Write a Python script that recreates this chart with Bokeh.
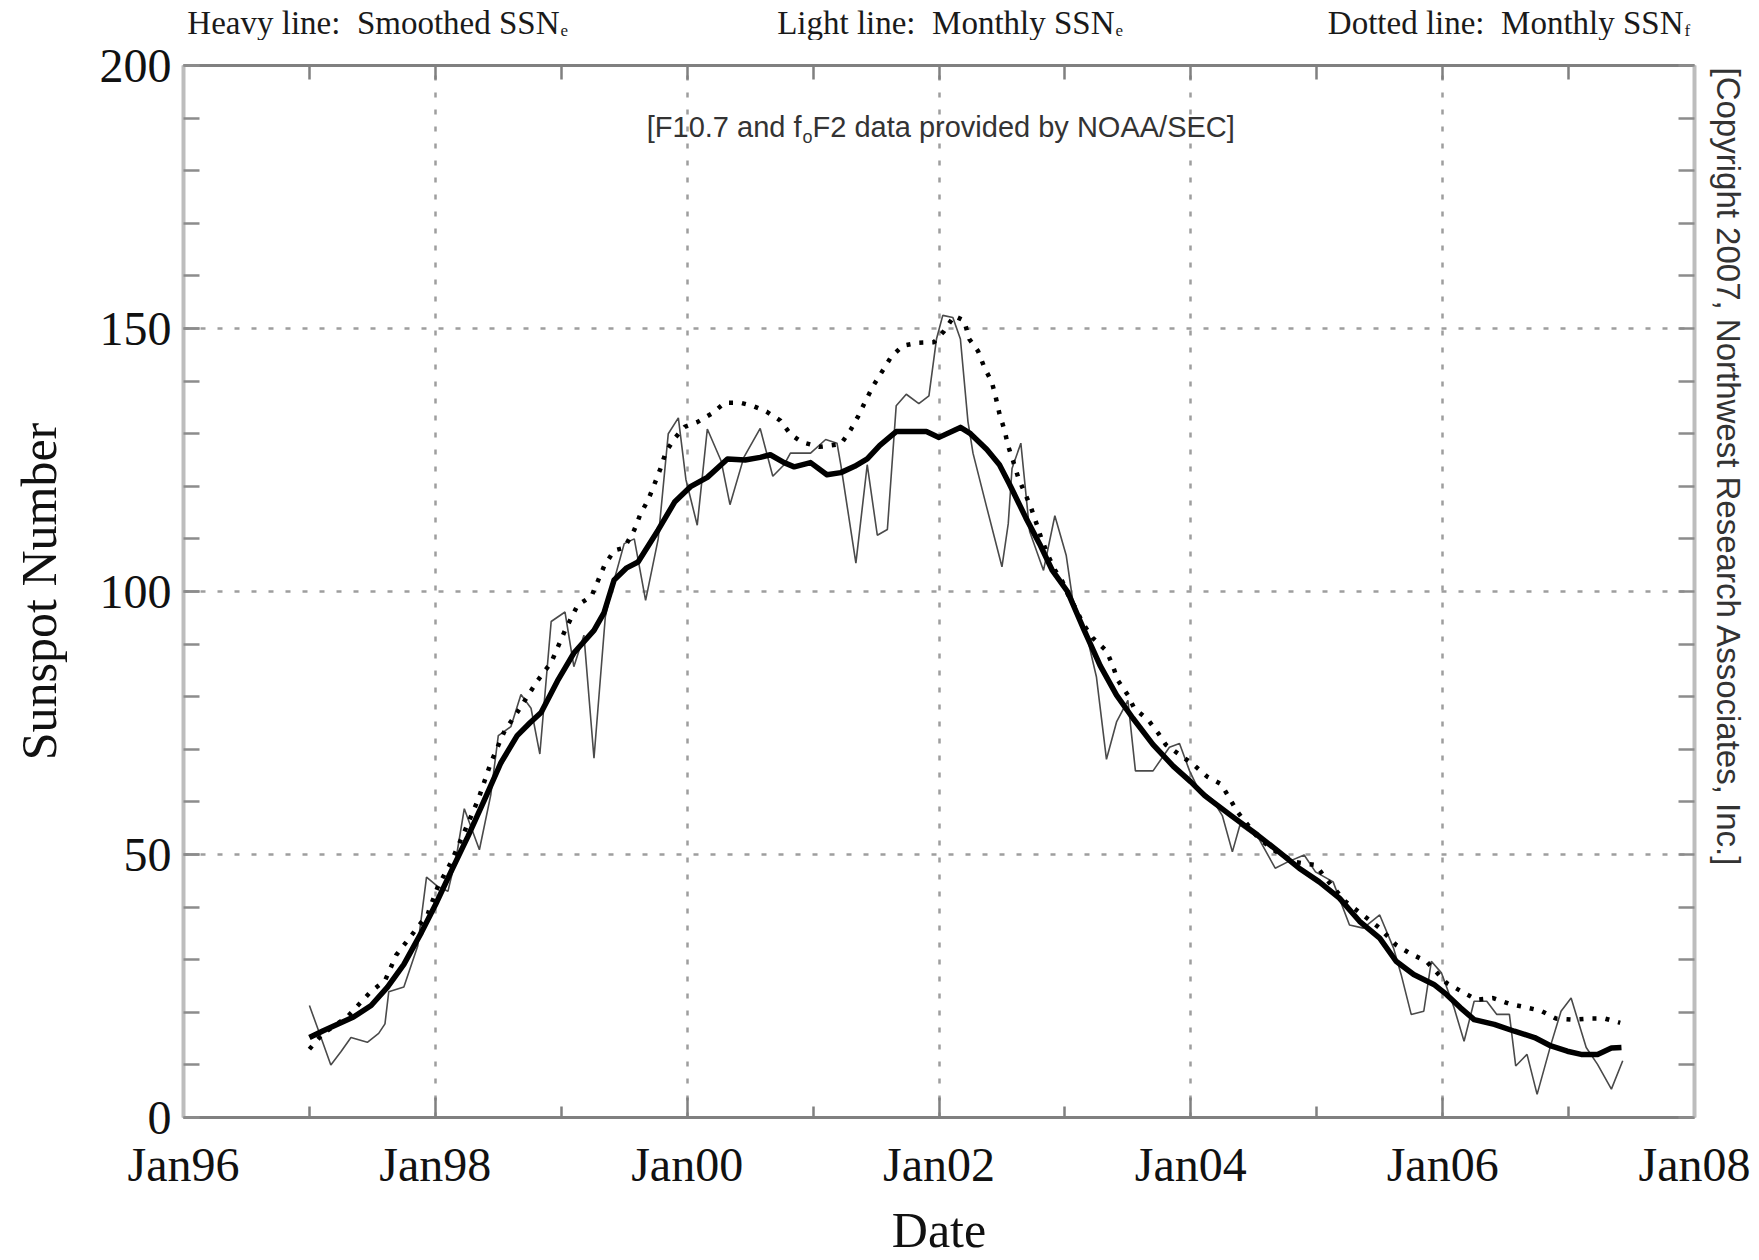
import math
from bokeh.plotting import figure
from bokeh.layouts import column
from bokeh.models import Range1d, LinearAxis, FixedTicker, Label, CustomJSTickFormatter, Title
from bokeh.embed import file_html
from bokeh.resources import INLINE

# ---------------- data (decimal years, sunspot number) ----------------
smooth_x = [1997.00, 1997.11, 1997.25, 1997.35, 1997.49, 1997.62, 1997.75, 1997.89,
            1998.00, 1998.12, 1998.26, 1998.39, 1998.52, 1998.65, 1998.75, 1998.84,
            1998.97, 1999.10, 1999.26, 1999.34, 1999.42, 1999.52, 1999.61, 1999.77,
            1999.90, 2000.03, 2000.16, 2000.32, 2000.46, 2000.58, 2000.66, 2000.77,
            2000.85, 2000.98, 2001.11, 2001.22, 2001.33, 2001.43, 2001.53, 2001.66,
            2001.90, 2002.00, 2002.17, 2002.25, 2002.38, 2002.48, 2002.56, 2002.69,
            2002.80, 2002.90, 2003.02, 2003.15, 2003.28, 2003.41, 2003.54, 2003.70,
            2003.86, 2004.00, 2004.11, 2004.32, 2004.53, 2004.70, 2004.86, 2005.02,
            2005.18, 2005.34, 2005.50, 2005.63, 2005.77, 2005.93, 2006.03, 2006.14,
            2006.25, 2006.41, 2006.57, 2006.73, 2006.86, 2006.99, 2007.10, 2007.23,
            2007.34, 2007.42]
smooth_y = [15.2, 16.5, 18.0, 19.1, 21.3, 24.8, 29.1, 35.2,
            40.4, 46.5, 53.5, 60.4, 67.4, 72.6, 75.0, 77.0,
            83.0, 88.3, 92.6, 96.0, 102.2, 104.5, 105.6, 111.7,
            117.0, 120.0, 121.7, 125.2, 125.0, 125.5, 126.0, 124.5,
            123.7, 124.5, 122.2, 122.6, 123.8, 125.2, 127.8, 130.4,
            130.4, 129.3, 131.2, 130.0, 127.0, 124.1, 120.4, 114.0,
            109.0, 104.0, 100.0, 92.8, 85.9, 80.3, 75.9, 70.9,
            66.8, 63.8, 61.2, 57.4, 53.7, 50.5, 47.4, 44.8,
            41.7, 37.3, 34.1, 29.7, 27.2, 25.3, 23.4, 20.9,
            18.6, 17.7, 16.4, 15.2, 13.6, 12.6, 12.0, 12.0,
            13.2, 13.3]

monthly_e_x = [1997.00, 1997.08, 1997.17, 1997.25, 1997.33, 1997.46, 1997.55, 1997.60,
               1997.63, 1997.75, 1997.86, 1997.93, 1998.02, 1998.10, 1998.17, 1998.23,
               1998.35, 1998.44, 1998.50, 1998.60, 1998.68, 1998.76, 1998.83, 1998.92,
               1999.03, 1999.10, 1999.18, 1999.26, 1999.35, 1999.41, 1999.50, 1999.58,
               1999.67, 1999.77, 1999.85, 1999.93, 1999.99, 2000.08, 2000.16, 2000.27,
               2000.34, 2000.45, 2000.58, 2000.68, 2000.77, 2000.82, 2000.98, 2001.10,
               2001.19, 2001.22, 2001.34, 2001.43, 2001.51, 2001.59, 2001.66, 2001.74,
               2001.84, 2001.92, 2001.98, 2002.03, 2002.11, 2002.17, 2002.23, 2002.27,
               2002.38, 2002.50, 2002.55, 2002.58, 2002.65, 2002.72, 2002.83, 2002.92,
               2003.01, 2003.06, 2003.17, 2003.25, 2003.33, 2003.41, 2003.50, 2003.56,
               2003.70, 2003.83, 2003.91, 2003.99, 2004.05, 2004.17, 2004.25, 2004.33,
               2004.39, 2004.54, 2004.67, 2004.77, 2004.90, 2004.99, 2005.13, 2005.26,
               2005.37, 2005.50, 2005.61, 2005.67, 2005.75, 2005.85, 2005.91, 2005.99,
               2006.09, 2006.17, 2006.25, 2006.35, 2006.43, 2006.53, 2006.58, 2006.67,
               2006.75, 2006.86, 2006.94, 2007.02, 2007.14, 2007.23, 2007.34, 2007.43]
monthly_e_y = [21.3, 16.0, 10.0, 12.5, 15.2, 14.3, 16.0, 17.8,
               23.9, 24.8, 32.6, 45.7, 43.9, 43.0, 50.0, 58.7,
               50.9, 61.3, 72.6, 74.3, 80.4, 77.8, 69.1, 94.3,
               96.1, 85.7, 91.7, 68.3, 95.2, 101.3, 109.1, 110.0,
               98.3, 110.0, 130.0, 133.0, 121.3, 112.6, 130.9, 124.8,
               116.5, 125.5, 131.0, 121.9, 124.1, 126.3, 126.3, 128.9,
               128.2, 124.1, 105.4, 124.1, 110.7, 111.8, 135.3, 137.5,
               135.7, 137.2, 148.0, 152.5, 152.1, 148.0, 132.3, 126.3,
               115.9, 104.7, 112.9, 123.4, 128.2, 111.4, 104.0, 114.4,
               106.9, 98.7, 92.0, 83.8, 68.1, 75.2, 79.3, 65.9,
               65.9, 70.4, 71.1, 65.9, 62.9, 60.5, 57.4, 50.5,
               55.6, 53.0, 47.4, 48.6, 49.9, 46.7, 44.8, 36.6,
               36.0, 38.5, 32.2, 27.2, 19.6, 20.2, 29.7, 27.5,
               20.9, 14.5, 22.1, 22.1, 19.6, 19.6, 9.8, 12.0,
               4.4, 13.9, 20.2, 22.7, 13.3, 10.1, 5.4, 10.8]

monthly_f_x = [1997.00, 1997.11, 1997.30, 1997.49, 1997.60, 1997.69, 1997.80, 1997.94,
               1998.02, 1998.12, 1998.23, 1998.34, 1998.44, 1998.55, 1998.65, 1998.81,
               1998.92, 1999.03, 1999.13, 1999.24, 1999.34, 1999.42, 1999.50, 1999.58,
               1999.63, 1999.69, 1999.74, 1999.79, 1999.83, 1999.90, 1999.98, 2000.08,
               2000.20, 2000.30, 2000.42, 2000.53, 2000.63, 2000.74, 2000.82, 2000.91,
               2001.05, 2001.22, 2001.30, 2001.36, 2001.42, 2001.48, 2001.55, 2001.62,
               2001.71, 2001.84, 2001.96, 2002.04, 2002.12, 2002.20, 2002.24, 2002.31,
               2002.36, 2002.42, 2002.45, 2002.48, 2002.52, 2002.55, 2002.59, 2002.63,
               2002.68, 2002.73, 2002.77, 2002.81, 2002.86, 2002.92, 2002.98, 2003.03,
               2003.09, 2003.14, 2003.22, 2003.33, 2003.38, 2003.42, 2003.50, 2003.55,
               2003.66, 2003.74, 2003.80, 2003.91, 2004.02, 2004.13, 2004.24, 2004.31,
               2004.37, 2004.53, 2004.66, 2004.82, 2004.99, 2005.07, 2005.23, 2005.35,
               2005.50, 2005.63, 2005.74, 2005.87, 2006.03, 2006.17, 2006.27, 2006.40,
               2006.53, 2006.65, 2006.78, 2006.90, 2007.03, 2007.16, 2007.29, 2007.41]
monthly_f_y = [13.0, 16.0, 19.1, 24.0, 26.0, 30.9, 34.3, 38.7,
               43.9, 48.3, 54.3, 60.4, 67.4, 73.5, 77.0, 83.0,
               86.5, 92.6, 97.4, 99.1, 104.8, 107.8, 108.3, 111.7,
               114.8, 117.4, 120.4, 123.5, 126.5, 129.1, 131.3, 132.2,
               133.9, 135.9, 135.9, 135.2, 134.2, 132.5, 129.9, 128.4,
               127.5, 128.0, 130.8, 133.4, 136.4, 139.2, 141.9, 144.6,
               146.7, 147.3, 147.4, 149.5, 152.4, 151.5, 148.0, 145.7,
               142.6, 139.8, 137.0, 133.8, 130.7, 127.6, 124.7, 121.6,
               118.8, 116.0, 113.2, 110.3, 107.2, 104.1, 101.9, 99.1,
               96.6, 94.0, 91.2, 88.7, 85.9, 83.1, 80.3, 77.8,
               75.6, 73.1, 70.9, 69.0, 67.1, 64.8, 63.4, 60.6,
               58.1, 53.3, 50.8, 48.6, 48.0, 45.5, 41.0, 38.8,
               36.0, 32.8, 31.2, 29.7, 25.6, 23.7, 22.4, 22.7,
               21.6, 21.0, 20.3, 18.8, 18.6, 18.8, 18.8, 18.0]

x_major = [1996, 1998, 2000, 2002, 2004, 2006, 2008]
x_labels = ["Jan96", "Jan98", "Jan00", "Jan02", "Jan04", "Jan06", "Jan08"]
x_minor = [1997, 1999, 2001, 2003, 2005, 2007]
x_grid = [1998, 2000, 2002, 2004, 2006]
y_major = [0, 50, 100, 150, 200]
y_minor = list(range(0, 201, 10))
y_grid = [50, 100, 150]

header_texts = ["Heavy line:\u00a0 Smoothed SSN", "Light line:\u00a0 Monthly SSN",
                "Dotted line:\u00a0 Monthly SSN"]
header_subs = ["e", "e", "f"]
credit_parts = ["[F10.7 and f", "o", "F2 data provided by NOAA/SEC]"]
copyright_text = "[Copyright 2007, Northwest Research Associates, Inc.]"

# ---------------- layout geometry (pixels) ----------------
W, H = 1759, 1260
HEAD = 40            # header band height
MAIN_H = H - HEAD
FL, FR, FT, FB = 183, 1694, 65, 1123   # frame edges in page pixels

SERIF = "Liberation Serif"
SANS = "Liberation Sans"
X0, X1, Y0, Y1 = 1996.0, 2008.0, 0.0, 200.0


def px_x(px):
    return X0 + (px - FL) * (X1 - X0) / (FR - FL)


def px_y(py):
    return Y0 + (FB - py) * (Y1 - Y0) / (FB - FT)


p = figure(width=W, height=MAIN_H, output_backend="svg", toolbar_location=None,
           x_range=Range1d(X0, X1), y_range=Range1d(Y0, Y1),
           min_border_left=FL, min_border_right=W - FR,
           min_border_top=FT - HEAD, min_border_bottom=H - FB,
           background_fill_color="white", border_fill_color="white",
           outline_line_color=None)
p.title.visible = False

# bottom axis
xa = p.xaxis[0]
xa.ticker = FixedTicker(ticks=x_major, minor_ticks=x_minor)
xa.major_label_overrides = {t: s for t, s in zip(x_major, x_labels)}
xa.major_tick_in = 20
xa.major_tick_out = 0
xa.minor_tick_in = 11
xa.minor_tick_out = 0
xa.axis_line_color = "#808080"
xa.axis_line_width = 3
xa.major_tick_line_color = "#808080"
xa.major_tick_line_width = 2.5
xa.minor_tick_line_color = "#808080"
xa.minor_tick_line_width = 2.5
xa.major_label_text_font = SERIF
xa.major_label_text_font_size = "48px"
xa.major_label_text_color = "#111111"
xa.major_label_standoff = 20
xa.axis_label = "Date"
xa.axis_label_text_font = SERIF
xa.axis_label_text_font_size = "50px"
xa.axis_label_text_font_style = "normal"
xa.axis_label_text_color = "#111111"
xa.axis_label_standoff = 8

# left axis
ya = p.yaxis[0]
ya.ticker = FixedTicker(ticks=y_major, minor_ticks=y_minor)
ya.major_tick_in = 16
ya.major_tick_out = 0
ya.minor_tick_in = 16
ya.minor_tick_out = 0
ya.axis_line_color = "#bdbdbd"
ya.axis_line_width = 4
ya.major_tick_line_color = "#8c8c8c"
ya.major_tick_line_width = 2.5
ya.minor_tick_line_color = "#8c8c8c"
ya.minor_tick_line_width = 2.5
ya.major_label_text_font = SERIF
ya.major_label_text_font_size = "48px"
ya.major_label_text_color = "#111111"
ya.major_label_standoff = 12
ya.axis_label = "Sunspot Number"
ya.axis_label_text_font = SERIF
ya.axis_label_text_font_size = "50px"
ya.axis_label_text_font_style = "normal"
ya.axis_label_text_color = "#111111"
ya.axis_label_standoff = 30

blank = CustomJSTickFormatter(code="return ''")

top = LinearAxis(ticker=FixedTicker(ticks=x_major + x_minor), formatter=blank,
                 major_tick_in=14, major_tick_out=0, minor_tick_in=0, minor_tick_out=0,
                 axis_line_color="#808080", axis_line_width=3,
                 major_tick_line_color="#808080", major_tick_line_width=2.5,
                 major_label_text_font_size="0px", major_label_standoff=0)
p.add_layout(top, "above")

right = LinearAxis(ticker=FixedTicker(ticks=y_minor), formatter=blank,
                   major_tick_in=16, major_tick_out=0, minor_tick_in=0, minor_tick_out=0,
                   axis_line_color="#bdbdbd", axis_line_width=4,
                   major_tick_line_color="#8c8c8c", major_tick_line_width=2.5,
                   major_label_text_font_size="0px", major_label_standoff=0)
p.add_layout(right, "right")

# vertical copyright on the right side (reads top to bottom)
p.add_layout(Title(text=copyright_text, align="left", offset=2, standoff=26,
                   vertical_align="top", text_font=SANS, text_font_size="33px",
                   text_font_style="normal", text_color="#333333"), "right")

# grids
p.xgrid.ticker = FixedTicker(ticks=x_grid)
p.ygrid.ticker = FixedTicker(ticks=y_grid)
for g in (p.xgrid[0], p.ygrid[0]):
    g.grid_line_color = "#9e9e9e"
    g.grid_line_width = 2.5
    g.grid_line_dash = "5 12"

# series
p.line(monthly_e_x, monthly_e_y, line_color="#4a4a4a", line_width=1.6)
p.line(monthly_f_x, monthly_f_y, line_color="black", line_width=4.5, line_dash="4 9")
p.line(smooth_x, smooth_y, line_color="black", line_width=5.5, line_join="round")

# data credit inside the plot (y = visual middle of the text line)
ANN = 29
p.add_layout(Label(x=px_x(801), y=px_y(127), text=credit_parts[0], text_align="right",
                   text_baseline="middle", text_font=SANS,
                   text_font_size=f"{ANN}px", text_color="#333333"))
p.add_layout(Label(x=px_x(802), y=px_y(137), text=credit_parts[1], text_align="left",
                   text_baseline="middle", text_font=SANS,
                   text_font_size="18px", text_color="#333333"))
p.add_layout(Label(x=px_x(812), y=px_y(127), text=credit_parts[2],
                   text_align="left", text_baseline="middle", text_font=SANS,
                   text_font_size=f"{ANN}px", text_color="#333333"))

# ---------------- header band: its frame is aligned with the main frame ----------------
hdr = figure(width=W, height=HEAD, output_backend="svg", toolbar_location=None,
             x_range=Range1d(FL, FR), y_range=Range1d(0, HEAD),
             x_axis_type=None, y_axis_type=None, min_border=0,
             min_border_left=FL, min_border_right=W - FR, min_border_top=0,
             min_border_bottom=0, outline_line_color=None,
             background_fill_color="white", border_fill_color="white")
hdr.title.visible = False
hdr.grid.visible = False
for text, sub, end_px in zip(header_texts, header_subs, [559, 1114, 1683]):
    hdr.add_layout(Label(x=end_px, y=HEAD - 22.5, text=text, text_align="right",
                         text_baseline="middle", text_font=SERIF,
                         text_font_size="33px", text_color="#1a1a1a"))
    hdr.add_layout(Label(x=end_px + 1, y=HEAD - 29.5, text=sub, text_align="left",
                         text_baseline="middle", text_font=SERIF,
                         text_font_size="17px", text_color="#1a1a1a"))

layout = column(hdr, p, spacing=0)

open("out.html", "w").write(file_html(layout, INLINE))
